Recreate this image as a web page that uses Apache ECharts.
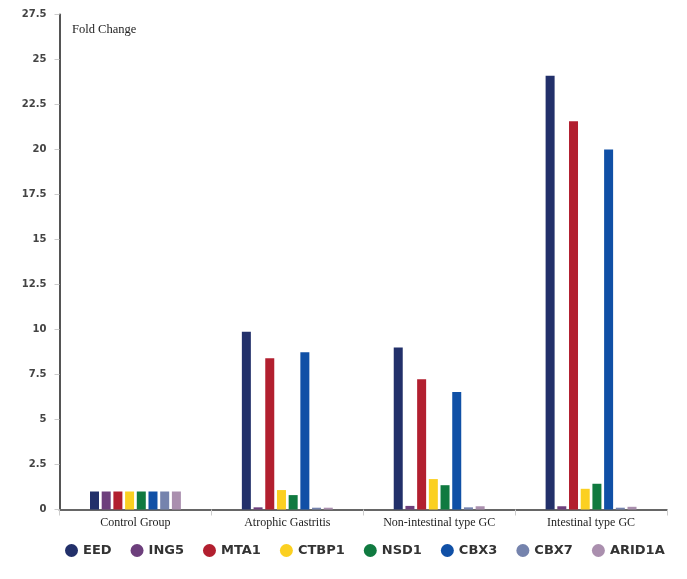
<!DOCTYPE html>
<html><head><meta charset="utf-8">
<script src="https://cdn.jsdelivr.net/npm/echarts@6/dist/echarts.min.js"></script>
<style>html,body{margin:0;padding:0;background:#fff}#c{width:687px;height:579px}</style>
</head><body><div id="c"></div>
<script>
const categories = ['Control Group', 'Atrophic Gastritis', 'Non-intestinal type GC', 'Intestinal type GC'];
const seriesNames = ['EED', 'ING5', 'MTA1', 'CTBP1', 'NSD1', 'CBX3', 'CBX7', 'ARID1A'];
const EED    = [1, 9.88, 9.0, 24.1];
const ING5   = [1, 0.12, 0.2, 0.18];
const MTA1   = [1, 8.4, 7.23, 21.57];
const CTBP1  = [1, 1.08, 1.69, 1.15];
const NSD1   = [1, 0.8, 1.35, 1.43];
const CBX3   = [1, 8.73, 6.53, 20.0];
const CBX7   = [1, 0.1, 0.12, 0.1];
const ARID1A = [1, 0.1, 0.18, 0.15];
const colors = ['#22306a', '#6d3f7c', '#b21f2f', '#fbd021', '#107a40', '#1050a6', '#7583ad', '#aa8fae'];
const values = [EED, ING5, MTA1, CTBP1, NSD1, CBX3, CBX7, ARID1A];

const chart = echarts.init(document.getElementById('c'));
chart.setOption({
  animation: false,
  color: colors,
  title: {
    text: 'Fold Change', left: 67, top: 18,
    textStyle: { fontFamily: 'Liberation Serif', fontSize: 12.5, fontWeight: 'normal', color: '#222' }
  },
  legend: {
    bottom: 17, left: 60, icon: 'circle', itemWidth: 13, itemHeight: 13, itemGap: 19,
    textStyle: { fontFamily: 'DejaVu Sans', fontWeight: 'bold', fontSize: 13, color: '#333' }
  },
  grid: { left: 59.5, right: 20, top: 14.5, bottom: 69.5, containLabel: false },
  xAxis: {
    type: 'category', data: categories,
    axisLine: { lineStyle: { color: '#666', width: 2 } },
    axisTick: { show: true, length: 6, lineStyle: { color: '#ccc' } },
    axisLabel: { fontFamily: 'Liberation Serif', fontSize: 12, color: '#222', margin: 7 }
  },
  yAxis: {
    type: 'value', min: 0, max: 27.5, interval: 2.5,
    splitLine: { show: false },
    axisLine: { show: true, lineStyle: { color: '#555', width: 2 } },
    axisTick: { show: true, length: 5, lineStyle: { color: '#ccc' } },
    axisLabel: { fontFamily: 'DejaVu Sans', fontWeight: 'bold', fontSize: 10, color: '#444', margin: 13 }
  },
  series: seriesNames.map((n, i) => ({
    name: n, type: 'bar', data: values[i], barWidth: 9, barGap: '30%'
  }))
});
</script></body></html>
